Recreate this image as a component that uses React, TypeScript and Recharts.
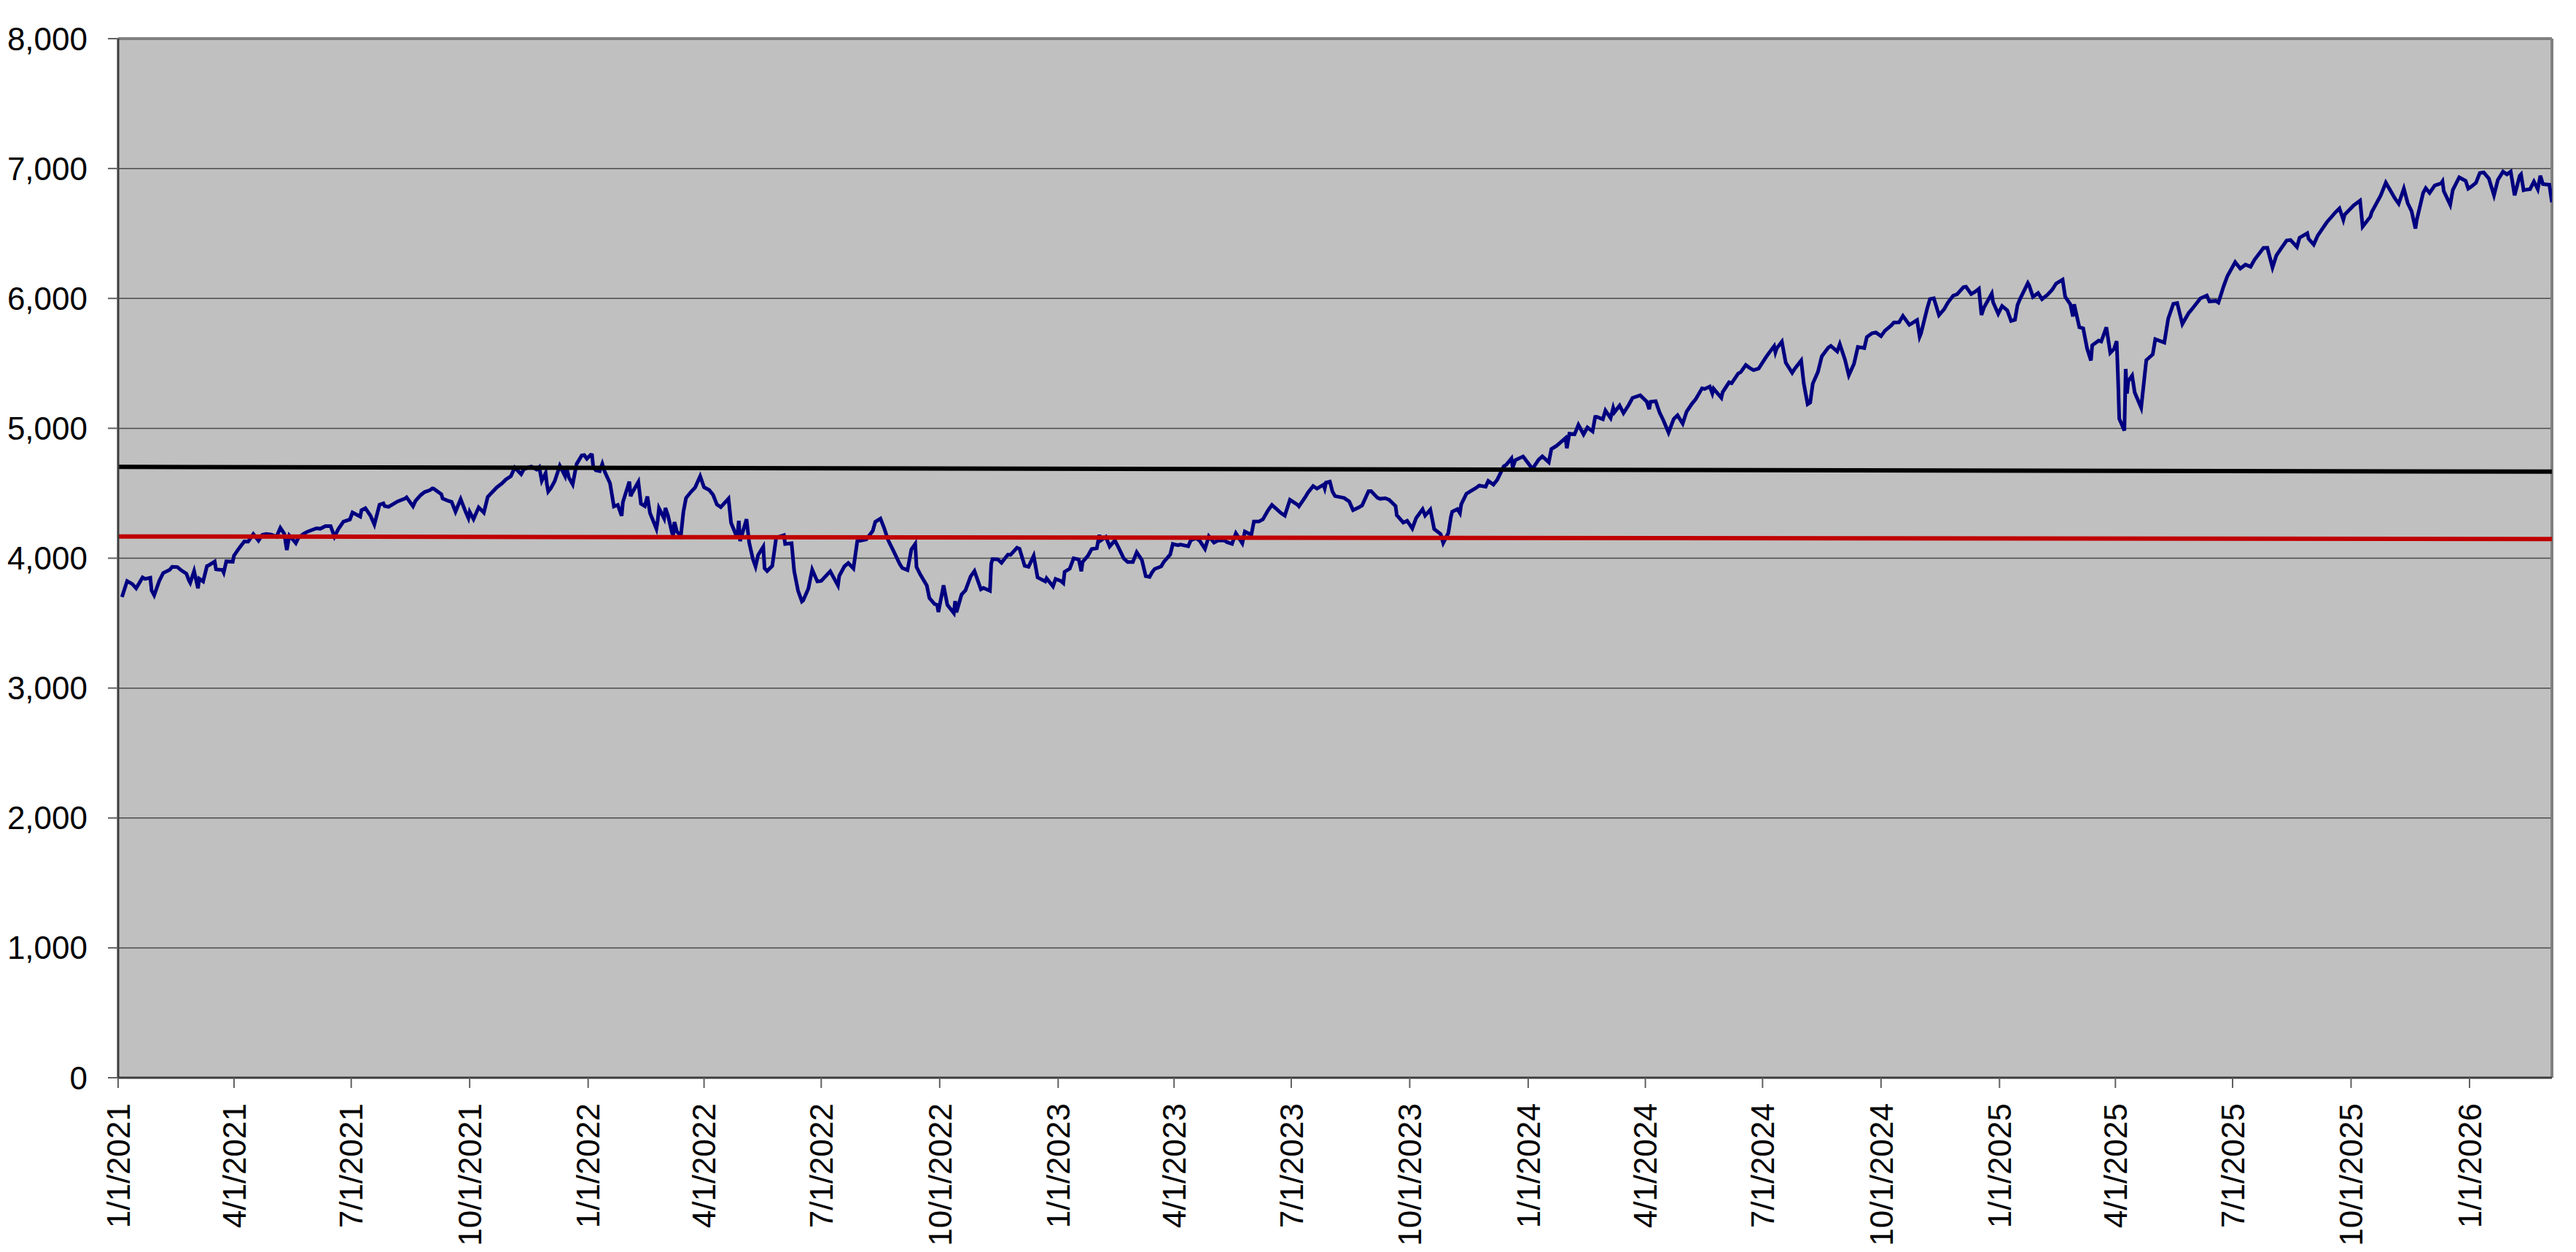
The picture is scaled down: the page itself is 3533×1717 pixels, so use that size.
import * as React from "react";
import {
  LineChart,
  Line,
  XAxis,
  YAxis,
  CartesianGrid,
  ReferenceLine,
} from "recharts";

// closes, [M/D, value] per year
const closes2021: [string, number][] = [
  ["1/4", 3701], ["1/8", 3824], ["1/12", 3801], ["1/15", 3768], ["1/20", 3852], ["1/22", 3841], ["1/26", 3850], ["1/27", 3751], ["1/29", 3714],
  ["2/2", 3826], ["2/5", 3886], ["2/10", 3910], ["2/12", 3934], ["2/16", 3932], ["2/19", 3907], ["2/23", 3881], ["2/25", 3829], ["2/26", 3811],
  ["3/1", 3901], ["3/4", 3768], ["3/5", 3842], ["3/8", 3821], ["3/11", 3939], ["3/12", 3943], ["3/17", 3974], ["3/18", 3915], ["3/19", 3913],
  ["3/23", 3910], ["3/24", 3889], ["3/26", 3975], ["3/31", 3973], ["4/1", 4020], ["4/5", 4078], ["4/9", 4129], ["4/12", 4128], ["4/16", 4185],
  ["4/20", 4135], ["4/23", 4180], ["4/26", 4187], ["4/30", 4181], ["5/4", 4165], ["5/7", 4233], ["5/10", 4189], ["5/12", 4063], ["5/14", 4174],
  ["5/18", 4128], ["5/19", 4116], ["5/21", 4156], ["5/25", 4188], ["5/28", 4204], ["6/4", 4230], ["6/7", 4227], ["6/11", 4247], ["6/15", 4247],
  ["6/18", 4166], ["6/21", 4224], ["6/25", 4281], ["6/30", 4298], ["7/2", 4352], ["7/8", 4320], ["7/9", 4370], ["7/12", 4385], ["7/16", 4327],
  ["7/19", 4259], ["7/23", 4412], ["7/26", 4422], ["7/27", 4401], ["7/30", 4395], ["8/6", 4437], ["8/12", 4460], ["8/13", 4468], ["8/18", 4400],
  ["8/20", 4442], ["8/24", 4486], ["8/27", 4509], ["8/31", 4523], ["9/2", 4537], ["9/3", 4535], ["9/9", 4493], ["9/10", 4459], ["9/14", 4443],
  ["9/17", 4433], ["9/20", 4358], ["9/24", 4455], ["9/28", 4353], ["9/30", 4308], ["10/1", 4357], ["10/4", 4300], ["10/8", 4391], ["10/12", 4351],
  ["10/15", 4471], ["10/22", 4545], ["10/26", 4575], ["10/29", 4605], ["11/2", 4631], ["11/5", 4697], ["11/10", 4647], ["11/12", 4683],
  ["11/16", 4701], ["11/18", 4705], ["11/19", 4698], ["11/22", 4682], ["11/24", 4701], ["11/26", 4595], ["11/29", 4655], ["11/30", 4567],
  ["12/1", 4513], ["12/3", 4538], ["12/6", 4592], ["12/10", 4712], ["12/14", 4634], ["12/15", 4709], ["12/17", 4621], ["12/20", 4568],
  ["12/23", 4725], ["12/27", 4791], ["12/29", 4793], ["12/31", 4766],
];

const closes2022: [string, number][] = [
  ["1/3", 4796], ["1/4", 4794], ["1/5", 4701], ["1/7", 4677], ["1/10", 4670], ["1/12", 4726], ["1/14", 4663], ["1/18", 4577], ["1/21", 4398],
  ["1/24", 4410], ["1/27", 4326], ["1/28", 4432], ["2/2", 4589], ["2/3", 4477], ["2/4", 4500], ["2/9", 4587], ["2/11", 4419], ["2/14", 4401],
  ["2/16", 4475], ["2/18", 4349], ["2/23", 4226], ["2/24", 4289], ["2/25", 4385], ["3/1", 4306], ["3/2", 4387], ["3/4", 4329], ["3/7", 4201],
  ["3/8", 4171], ["3/9", 4278], ["3/11", 4204], ["3/14", 4173], ["3/16", 4358], ["3/18", 4463], ["3/22", 4512], ["3/25", 4543], ["3/29", 4631],
  ["4/1", 4546], ["4/5", 4525], ["4/8", 4488], ["4/11", 4413], ["4/14", 4393], ["4/20", 4459], ["4/22", 4272], ["4/26", 4175], ["4/27", 4183],
  ["4/28", 4288], ["4/29", 4132], ["5/4", 4300], ["5/6", 4123], ["5/9", 3991], ["5/11", 3935], ["5/13", 4024], ["5/17", 4088], ["5/18", 3923],
  ["5/20", 3901], ["5/24", 3941], ["5/27", 4158], ["6/2", 4177], ["6/3", 4109], ["6/8", 4115], ["6/10", 3901], ["6/13", 3750], ["6/16", 3667],
  ["6/17", 3675], ["6/21", 3765], ["6/24", 3912], ["6/28", 3821], ["7/1", 3825], ["7/8", 3899], ["7/14", 3790], ["7/15", 3863], ["7/19", 3937],
  ["7/22", 3962], ["7/26", 3921], ["7/29", 4130], ["8/5", 4145], ["8/10", 4210], ["8/12", 4280], ["8/16", 4305], ["8/19", 4228], ["8/22", 4138],
  ["8/26", 4058], ["8/31", 3955], ["9/2", 3924], ["9/6", 3908], ["9/9", 4067], ["9/12", 4110], ["9/13", 3932], ["9/16", 3873], ["9/21", 3790],
  ["9/23", 3693], ["9/27", 3647], ["9/29", 3640], ["9/30", 3586], ["10/4", 3791], ["10/7", 3640], ["10/12", 3577], ["10/13", 3670],
  ["10/14", 3583], ["10/18", 3720], ["10/21", 3752], ["10/25", 3859], ["10/28", 3901], ["11/2", 3760], ["11/4", 3771], ["11/9", 3749],
  ["11/10", 3956], ["11/11", 3993], ["11/15", 3992], ["11/18", 3965], ["11/23", 4028], ["11/25", 4026], ["11/30", 4080], ["12/2", 4072],
  ["12/6", 3941], ["12/9", 3934], ["12/13", 4019], ["12/16", 3852], ["12/22", 3822], ["12/23", 3845], ["12/28", 3783], ["12/30", 3840],
];

const closes2023: [string, number][] = [
  ["1/3", 3825], ["1/5", 3808], ["1/6", 3895], ["1/10", 3919], ["1/13", 3999], ["1/17", 3990], ["1/19", 3899], ["1/20", 3972], ["1/24", 4017],
  ["1/27", 4070], ["1/31", 4077], ["2/2", 4180], ["2/3", 4136], ["2/7", 4164], ["2/10", 4090], ["2/14", 4137], ["2/17", 4079], ["2/21", 3997],
  ["2/24", 3970], ["2/28", 3970], ["3/3", 4046], ["3/7", 3986], ["3/10", 3862], ["3/13", 3856], ["3/15", 3892], ["3/17", 3917], ["3/22", 3937],
  ["3/24", 3971], ["3/29", 4028], ["3/31", 4109], ["4/4", 4100], ["4/6", 4105], ["4/12", 4092], ["4/14", 4138], ["4/18", 4154], ["4/21", 4133],
  ["4/25", 4072], ["4/28", 4169], ["5/2", 4120], ["5/5", 4136], ["5/10", 4138], ["5/12", 4124], ["5/16", 4110], ["5/19", 4192], ["5/24", 4115],
  ["5/26", 4205], ["5/31", 4180], ["6/2", 4282], ["6/6", 4283], ["6/9", 4299], ["6/13", 4369], ["6/16", 4410], ["6/21", 4366], ["6/23", 4348],
  ["6/26", 4328], ["6/30", 4450], ["7/6", 4411], ["7/7", 4399], ["7/12", 4472], ["7/14", 4505], ["7/18", 4555], ["7/21", 4536], ["7/26", 4566],
  ["7/27", 4537], ["7/28", 4582], ["7/31", 4589], ["8/2", 4513], ["8/4", 4478], ["8/9", 4468], ["8/11", 4464], ["8/15", 4437], ["8/18", 4370],
  ["8/22", 4388], ["8/25", 4406], ["8/30", 4515], ["9/1", 4516], ["9/6", 4465], ["9/8", 4457], ["9/12", 4462], ["9/15", 4450], ["9/20", 4402],
  ["9/21", 4330], ["9/22", 4320], ["9/26", 4274], ["9/29", 4288], ["10/3", 4229], ["10/6", 4309], ["10/11", 4377], ["10/13", 4328],
  ["10/17", 4374], ["10/20", 4224], ["10/25", 4186], ["10/27", 4117], ["10/31", 4194], ["11/2", 4318], ["11/3", 4358], ["11/7", 4378],
  ["11/9", 4347], ["11/10", 4415], ["11/14", 4496], ["11/17", 4514], ["11/21", 4538], ["11/24", 4559], ["11/29", 4551], ["12/1", 4595],
  ["12/5", 4567], ["12/8", 4604], ["12/13", 4707], ["12/15", 4719], ["12/19", 4768], ["12/20", 4698], ["12/22", 4755], ["12/28", 4783],
  ["12/29", 4770],
];

const closes2024: [string, number][] = [
  ["1/3", 4705], ["1/4", 4688], ["1/5", 4697], ["1/9", 4757], ["1/12", 4784], ["1/17", 4739], ["1/19", 4840], ["1/23", 4865], ["1/26", 4891],
  ["1/30", 4925], ["1/31", 4846], ["2/2", 4959], ["2/6", 4954], ["2/9", 5027], ["2/13", 4953], ["2/16", 5006], ["2/20", 4976], ["2/22", 5088],
  ["2/23", 5089], ["2/28", 5070], ["3/1", 5137], ["3/5", 5079], ["3/7", 5157], ["3/8", 5124], ["3/12", 5175], ["3/15", 5117], ["3/19", 5179],
  ["3/22", 5234], ["3/28", 5254], ["4/2", 5206], ["4/4", 5147], ["4/5", 5204], ["4/9", 5209], ["4/12", 5123], ["4/15", 5061], ["4/19", 4967],
  ["4/23", 5071], ["4/26", 5100], ["4/30", 5036], ["5/3", 5128], ["5/7", 5187], ["5/10", 5223], ["5/15", 5308], ["5/17", 5303], ["5/21", 5321],
  ["5/23", 5268], ["5/24", 5305], ["5/30", 5235], ["5/31", 5278], ["6/5", 5354], ["6/7", 5347], ["6/12", 5421], ["6/14", 5432], ["6/18", 5487],
  ["6/21", 5465], ["6/24", 5448], ["6/28", 5460], ["7/3", 5537], ["7/5", 5567], ["7/10", 5633], ["7/11", 5585], ["7/12", 5615], ["7/16", 5667],
  ["7/19", 5505], ["7/24", 5427], ["7/26", 5459], ["7/31", 5522], ["8/2", 5346], ["8/5", 5186], ["8/7", 5199], ["8/9", 5344], ["8/13", 5434],
  ["8/16", 5554], ["8/21", 5621], ["8/23", 5634], ["8/28", 5592], ["8/30", 5648], ["9/3", 5529], ["9/6", 5408], ["9/10", 5496], ["9/13", 5626],
  ["9/18", 5618], ["9/20", 5703], ["9/24", 5732], ["9/27", 5738], ["10/1", 5709], ["10/4", 5751], ["10/9", 5793], ["10/11", 5815],
  ["10/15", 5816], ["10/18", 5865], ["10/23", 5797], ["10/25", 5808], ["10/29", 5833], ["10/31", 5705], ["11/1", 5729], ["11/6", 5929],
  ["11/8", 5995], ["11/11", 6001], ["11/15", 5871], ["11/19", 5917], ["11/22", 5969], ["11/26", 6021], ["11/29", 6032], ["12/4", 6087],
  ["12/6", 6090], ["12/10", 6034], ["12/13", 6051], ["12/16", 6074], ["12/18", 5872], ["12/20", 5931], ["12/26", 6037], ["12/27", 5971],
  ["12/31", 5882],
];

const closes2025: [string, number][] = [
  ["1/3", 5942], ["1/7", 5909], ["1/10", 5827], ["1/13", 5836], ["1/15", 5950], ["1/17", 5997], ["1/23", 6119], ["1/24", 6101], ["1/27", 6012],
  ["1/31", 6041], ["2/3", 5994], ["2/7", 6026], ["2/11", 6068], ["2/14", 6115], ["2/19", 6144], ["2/21", 6013], ["2/25", 5955], ["2/27", 5861],
  ["2/28", 5955], ["3/4", 5778], ["3/7", 5770], ["3/10", 5615], ["3/13", 5522], ["3/14", 5639], ["3/19", 5675], ["3/21", 5668], ["3/25", 5777],
  ["3/28", 5581], ["3/31", 5612], ["4/2", 5671], ["4/3", 5397], ["4/4", 5074], ["4/8", 4983], ["4/9", 5457], ["4/10", 5268], ["4/11", 5363],
  ["4/14", 5406], ["4/16", 5276], ["4/21", 5158], ["4/25", 5525], ["4/30", 5569], ["5/2", 5686], ["5/9", 5660], ["5/12", 5844], ["5/16", 5958],
  ["5/19", 5964], ["5/23", 5803], ["5/28", 5889], ["5/30", 5912], ["6/6", 6000], ["6/11", 6022], ["6/13", 5977], ["6/18", 5981], ["6/20", 5968],
  ["6/24", 6092], ["6/27", 6173], ["7/3", 6279], ["7/7", 6230], ["7/11", 6260], ["7/15", 6244], ["7/18", 6297], ["7/25", 6389], ["7/28", 6390],
  ["8/1", 6238], ["8/4", 6330], ["8/8", 6389], ["8/12", 6446], ["8/15", 6450], ["8/20", 6396], ["8/22", 6467], ["8/28", 6502], ["8/29", 6460],
  ["9/2", 6415], ["9/5", 6482], ["9/12", 6584], ["9/19", 6664], ["9/22", 6693], ["9/25", 6605], ["9/26", 6644], ["10/3", 6716], ["10/8", 6753],
  ["10/10", 6553], ["10/16", 6629], ["10/17", 6664], ["10/24", 6792], ["10/28", 6891], ["10/31", 6840], ["11/4", 6771], ["11/7", 6729],
  ["11/11", 6846], ["11/14", 6734], ["11/17", 6672], ["11/20", 6538], ["11/21", 6603], ["11/26", 6813], ["11/28", 6849], ["12/1", 6812],
  ["12/5", 6870], ["12/10", 6886], ["12/11", 6901], ["12/12", 6827], ["12/17", 6721], ["12/19", 6835], ["12/24", 6932], ["12/29", 6905],
  ["12/31", 6845],
];

const closes2026: [string, number][] = [
  ["1/2", 6858], ["1/6", 6890], ["1/9", 6966], ["1/12", 6970], ["1/16", 6923], ["1/20", 6794], ["1/23", 6912], ["1/27", 6976], ["1/30", 6955],
  ["2/2", 6976], ["2/5", 6794], ["2/9", 6945], ["2/10", 6956], ["2/12", 6833], ["2/13", 6836], ["2/17", 6841], ["2/20", 6900], ["2/23", 6841],
  ["2/25", 6945], ["2/27", 6880], ["3/4", 6875], ["3/6", 6740],
];

// the two flat reference series: value at first and last date
const blackLevel = [4703, 4666];
const redLevel = [4167, 4147];

const yTicks = [0, 1000, 2000, 3000, 4000, 5000, 6000, 7000, 8000];
const tickDates = [
  "1/1/2021", "4/1/2021", "7/1/2021", "10/1/2021",
  "1/1/2022", "4/1/2022", "7/1/2022", "10/1/2022",
  "1/1/2023", "4/1/2023", "7/1/2023", "10/1/2023",
  "1/1/2024", "4/1/2024", "7/1/2024", "10/1/2024",
  "1/1/2025", "4/1/2025", "7/1/2025", "10/1/2025",
  "1/1/2026",
];
const startDate = "1/1/2021";
const endDate = "3/6/2026";

const FONT = '"Liberation Sans", Arial, sans-serif';

function toDay(mdy: string) {
  const [m, d, y] = mdy.split("/").map(Number);
  return (Date.UTC(y, m - 1, d) - Date.UTC(2021, 0, 1)) / 86400000;
}

function fromDay(day: number) {
  const dt = new Date(Date.UTC(2021, 0, 1) + Math.round(day) * 86400000);
  return `${dt.getUTCMonth() + 1}/${dt.getUTCDate()}/${dt.getUTCFullYear()}`;
}

const years: [number, [string, number][]][] = [
  [2021, closes2021],
  [2022, closes2022],
  [2023, closes2023],
  [2024, closes2024],
  [2025, closes2025],
  [2026, closes2026],
];

const indexData = years.flatMap(([year, rows]) =>
  rows.map(([md, v]) => ({ day: toDay(`${md}/${year}`), value: v }))
);

const x0 = toDay(startDate);
const x1 = toDay(endDate);
const blackData = [
  { day: x0, value: blackLevel[0] },
  { day: x1, value: blackLevel[1] },
];
const redData = [
  { day: x0, value: redLevel[0] },
  { day: x1, value: redLevel[1] },
];
const xTicks = tickDates.map(toDay);

function DateTick(props: any) {
  const { x, y, payload } = props;
  return (
    <text
      x={x}
      y={y}
      transform={`rotate(-90 ${x} ${y})`}
      textAnchor="end"
      dy="0.36em"
      fontSize={44}
      fontFamily={FONT}
      fill="#000"
    >
      {fromDay(payload.value)}
    </text>
  );
}

export default function App() {
  return (
    <div style={{ position: "absolute", left: 0, top: 0, background: "#fff" }}>
      <LineChart
        width={3533}
        height={1717}
        margin={{ top: 53, right: 33, bottom: 0, left: 0 }}
      >
        <CartesianGrid
          vertical={false}
          fill="#C0C0C0"
          fillOpacity={1}
          stroke="#4a4a4a"
          strokeWidth={1.5}
          strokeOpacity={1}
        />
        <XAxis
          type="number"
          dataKey="day"
          domain={[x0, x1]}
          ticks={xTicks}
          interval={0}
          height={239}
          tickSize={14}
          tickMargin={21}
          axisLine={{ stroke: "#3c3c3c", strokeWidth: 3 }}
          tickLine={{ stroke: "#606060", strokeWidth: 2 }}
          tick={<DateTick />}
          allowDataOverflow
        />
        <YAxis
          type="number"
          domain={[0, 8000]}
          ticks={yTicks}
          interval={0}
          width={162}
          tickSize={14}
          tickMargin={28}
          axisLine={{ stroke: "#3c3c3c", strokeWidth: 3 }}
          tickLine={{ stroke: "#606060", strokeWidth: 2 }}
          tick={{ fill: "#000", fontSize: 44, fontFamily: FONT }}
          tickFormatter={(v: number) => v.toLocaleString("en-US")}
        />
        <ReferenceLine y={8000} stroke="#808080" strokeWidth={4} />
        <ReferenceLine x={x1} stroke="#808080" strokeWidth={4} />
        <Line
          data={indexData}
          dataKey="value"
          type="linear"
          stroke="#000080"
          strokeWidth={5}
          dot={false}
          isAnimationActive={false}
        />
        <Line
          data={blackData}
          dataKey="value"
          type="linear"
          stroke="#000000"
          strokeWidth={6}
          dot={false}
          isAnimationActive={false}
        />
        <Line
          data={redData}
          dataKey="value"
          type="linear"
          stroke="#C00000"
          strokeWidth={6}
          dot={false}
          isAnimationActive={false}
        />
      </LineChart>
    </div>
  );
}
